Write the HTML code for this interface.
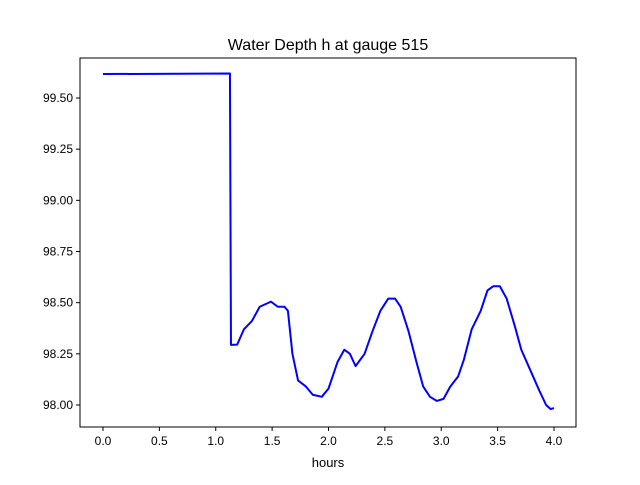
<!DOCTYPE html>
<html><head><meta charset="utf-8"><style>
body{margin:0;background:#fff;}
svg text{font-family:"Liberation Sans","DejaVu Sans",sans-serif;}
</style></head><body>
<svg id="chart" width="640" height="480" xmlns="http://www.w3.org/2000/svg">
<rect width="640" height="480" fill="#fff"/>
<text x="328" y="50" text-anchor="middle" font-size="16">Water Depth h at gauge 515</text>
<g id="axes"></g>
<text x="328" y="467" text-anchor="middle" font-size="13">hours</text>
</svg>
<script>
const xs=[0,1.126,1.135,1.19,1.25,1.32,1.39,1.49,1.55,1.61,1.64,1.68,1.73,1.80,1.86,1.94,2.0,2.08,2.14,2.19,2.24,2.32,2.39,2.46,2.53,2.59,2.64,2.71,2.78,2.84,2.90,2.96,3.02,3.08,3.15,3.2,3.27,3.35,3.41,3.46,3.52,3.58,3.65,3.71,3.79,3.87,3.93,3.97,4.0];
const hs=[99.617,99.62,98.294,98.295,98.37,98.41,98.48,98.505,98.48,98.48,98.46,98.25,98.12,98.09,98.05,98.04,98.08,98.21,98.27,98.25,98.19,98.25,98.36,98.46,98.52,98.52,98.48,98.36,98.21,98.09,98.04,98.02,98.03,98.09,98.14,98.22,98.37,98.46,98.56,98.58,98.58,98.52,98.39,98.27,98.17,98.07,98.0,97.98,97.985];
const xTicks=[0,0.5,1,1.5,2,2.5,3,3.5,4];
const xTickLabels=["0.0","0.5","1.0","1.5","2.0","2.5","3.0","3.5","4.0"];
const yTicks=[98,98.25,98.5,98.75,99,99.25,99.5];
const yTickLabels=["98.00","98.25","98.50","98.75","99.00","99.25","99.50"];
const L=80,R=576,T=58,B=427;
const sx=v=>103+(v-0)*(554-103)/4;
const sy=v=>405-(v-98)*(405-98)/1.5;
const NS="http://www.w3.org/2000/svg";
const g=document.getElementById('axes');
function mk(tag,attrs){const e=document.createElementNS(NS,tag);for(const k in attrs)e.setAttribute(k,attrs[k]);g.appendChild(e);return e;}
xTicks.forEach((t,i)=>{
 const l=mk('line',{x1:sx(t),x2:sx(t),y1:B,y2:B+4,stroke:'#000'});
 
 
 const tx=mk('text',{x:sx(t),y:B+18,'text-anchor':'middle','font-size':12});
 
 
 tx.textContent=xTickLabels[i];
});
yTicks.forEach((t,i)=>{
 const l=mk('line',{x1:L-4,x2:L,y1:sy(t),y2:sy(t),stroke:'#000'});
 
 
 const tx=mk('text',{x:L-7,y:sy(t)+4,'text-anchor':'end','font-size':12});
 
 
 tx.textContent=yTickLabels[i];
});
const p=mk('polyline',{points:xs.map((x,i)=>sx(x)+','+sy(hs[i])).join(' '),fill:'none',stroke:'#0000ff','stroke-width':2,'stroke-linejoin':'round'});


const f=mk('rect',{x:L,y:T,width:R-L,height:B-T,fill:'none',stroke:'#000','stroke-width':1});


</script>
</body></html>
